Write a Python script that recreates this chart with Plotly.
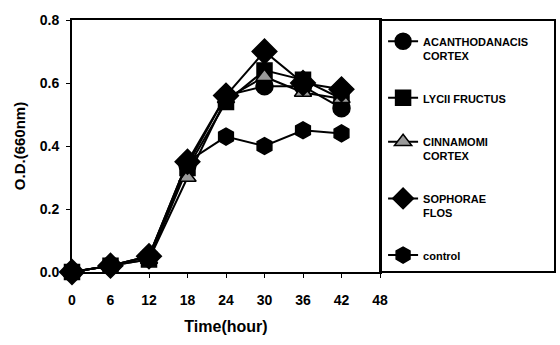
import plotly.graph_objects as go

hours = [0, 6, 12, 18, 24, 30, 36, 42]

acanthopanacis = [0.00, 0.02, 0.05, 0.34, 0.56, 0.59, 0.59, 0.52]
lycii = [0.00, 0.02, 0.04, 0.33, 0.54, 0.64, 0.61, 0.55]
cinnamomi = [0.00, 0.02, 0.04, 0.30, 0.55, 0.62, 0.57, 0.55]
sophorae = [0.00, 0.02, 0.05, 0.35, 0.56, 0.70, 0.60, 0.58]
control = [0.00, 0.02, 0.05, 0.35, 0.43, 0.40, 0.45, 0.44]

x_ticks = [0, 6, 12, 18, 24, 30, 36, 42, 48]
y_ticks = [0.0, 0.2, 0.4, 0.6, 0.8]

series = [
    ("ACANTHODANACIS<br>CORTEX", acanthopanacis, "circle", "black", 17),
    ("LYCII FRUCTUS", lycii, "square", "black", 15),
    ("CINNAMOMI<br>CORTEX", cinnamomi, "triangle-up", "#9a9a9a", 15),
    ("SOPHORAE<br>FLOS", sophorae, "diamond", "black", 19),
    ("control", control, "hexagon", "black", 17),
]

FONT = "Liberation Sans"

fig = go.Figure()
for i, (name, vals, sym, fill, size) in enumerate(series):
    fig.add_trace(go.Scatter(
        x=hours, y=vals, name=name, mode="lines+markers",
        line=dict(color="black", width=2),
        marker=dict(symbol=sym, size=size, color=fill,
                    line=dict(color="black", width=1.5)),
        cliponaxis=False, legendgroup=f"g{i}",
    ))

fig.update_layout(
    width=560, height=345,
    margin=dict(l=72, r=180, t=15, b=73),
    paper_bgcolor="white", plot_bgcolor="white",
    font=dict(family=FONT, color="black"),
    showlegend=True,
    legend=dict(
        x=1.01, y=0.97, xanchor="left", yanchor="top",
        traceorder="grouped", tracegroupgap=25, valign="top",
        font=dict(family=FONT, size=11, color="black", weight="bold"),
        bgcolor="rgba(0,0,0,0)", borderwidth=0,
    ),
    xaxis=dict(
        range=[0, 48], tickvals=x_ticks, ticks="outside", ticklen=4,
        tickcolor="black", showline=True, linecolor="black", linewidth=2,
        mirror=True, showgrid=False, zeroline=False, ticklabelstandoff=10,
        tickfont=dict(family=FONT, size=14, weight="bold"),
        title=dict(text="Time(hour)", font=dict(family=FONT, size=16, weight="bold"),
                   standoff=14),
    ),
    yaxis=dict(
        range=[0, 0.8], tickvals=y_ticks, tickformat=".1f", ticks="outside",
        ticklen=4, tickcolor="black", showline=True, linecolor="black",
        linewidth=2, mirror=True, showgrid=False, zeroline=False,
        ticklabelstandoff=4,
        tickfont=dict(family=FONT, size=14, weight="bold"),
        title=dict(text="O.D.(660nm)", font=dict(family=FONT, size=15, weight="bold"),
                   standoff=10),
    ),
    shapes=[dict(
        type="rect", xref="paper", yref="paper",
        x0=1.0, x1=(555 - 72) / 308, y0=0, y1=1,
        line=dict(color="black", width=2), fillcolor="rgba(0,0,0,0)",
    )],
)

fig.write_html("out.html")
